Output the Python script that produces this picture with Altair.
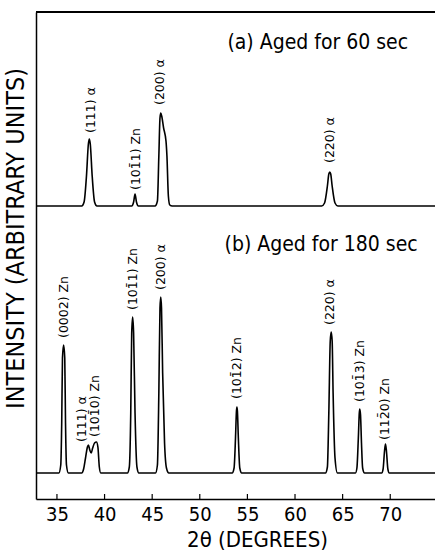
import altair as alt
import pandas as pd

# ---- data (2-theta in degrees, intensity in arbitrary units above each trace's baseline)
two_theta_a = [32.8, 37.6, 37.85, 38.1, 38.3, 38.4, 38.5, 38.7, 38.95, 39.2,
               42.85, 43.05, 43.2, 43.35, 43.55,
               45.3, 45.55, 45.7, 45.82, 45.9, 46.0, 46.2, 46.45, 46.55, 46.7, 46.85, 47.1,
               62.8, 63.1, 63.4, 63.55, 63.65, 63.75, 63.9, 64.2, 64.5, 74.7]
intensity_a = [0, 0, 4, 30, 62, 67, 62, 30, 4, 0,
               0, 4, 12, 4, 0,
               0, 5, 50, 88, 93, 90, 78, 65, 50, 10, 1, 0,
               0, 3, 20, 32, 34, 32, 20, 3, 0, 0]

two_theta_b = [32.8, 35.2, 35.4, 35.5, 35.58, 35.7, 35.82, 35.9, 36.0, 36.2,
               37.6, 37.8, 38.0, 38.2, 38.3, 38.45, 38.6, 38.75, 38.95, 39.15, 39.3, 39.45, 39.6,
               42.4, 42.6, 42.75, 42.85, 42.95, 43.05, 43.2, 43.4, 43.6,
               45.35, 45.55, 45.7, 45.82, 45.9, 45.98, 46.1, 46.3, 46.5, 46.75,
               53.4, 53.6, 53.75, 53.85, 53.9, 53.95, 54.05, 54.2, 54.4,
               63.2, 63.4, 63.55, 63.7, 63.8, 63.9, 64.0, 64.2, 64.45,
               66.35, 66.5, 66.65, 66.75, 66.8, 66.88, 66.98, 67.1, 67.3,
               69.1, 69.25, 69.4, 69.5, 69.6, 69.75, 69.9, 74.7]
intensity_b = [0, 0, 8, 50, 115, 128, 115, 50, 8, 0,
               0, 4, 15, 26, 28, 23, 20, 25, 30, 31, 26, 6, 0,
               0, 6, 60, 140, 156, 140, 60, 6, 0,
               0, 8, 80, 165, 176, 165, 100, 30, 5, 0,
               0, 5, 35, 62, 66, 62, 35, 5, 0,
               0, 6, 60, 132, 141, 132, 80, 15, 0,
               0, 5, 35, 60, 64, 58, 30, 5, 0,
               0, 4, 22, 29, 22, 4, 0, 0]

labels_a = ["(111) α", "(101\u03041) Zn", "(200) α", "(220) α"]
label_x_a = [38.55, 43.3, 45.8, 63.65]
label_y_a = [73, 16, 101, 43]

labels_b = ["(0002) Zn", "(111) α", "(101\u03040) Zn", "(101\u03041) Zn", "(200) α",
            "(101\u03042) Zn", "(220) α", "(101\u03043) Zn", "(112\u03040) Zn"]
label_x_b = [35.7, 37.6, 39.0, 43.0, 45.9, 53.9, 63.65, 66.8, 69.4]
label_y_b = [135, 31, 36, 163, 183, 74, 148, 71, 33]

panel_titles = ["(a) Aged for 60 sec", "(b) Aged for 180 sec"]
panel_title_x = [52.9, 52.6]
panel_title_y = [163, 228]

tick_values = [35, 40, 45, 50, 55, 60, 65, 70]

BASE_A = 293
BASE_B = 26

# ---- tables
trace = pd.concat([
    pd.DataFrame({"t": two_theta_a, "i": [v + BASE_A for v in intensity_a], "s": "a"}),
    pd.DataFrame({"t": two_theta_b, "i": [v + BASE_B for v in intensity_b], "s": "b"}),
], ignore_index=True)
trace["o"] = range(len(trace))

labels = pd.concat([
    pd.DataFrame({"t": label_x_a, "i": [v + BASE_A for v in label_y_a], "txt": labels_a}),
    pd.DataFrame({"t": label_x_b, "i": [v + BASE_B for v in label_y_b], "txt": labels_b}),
], ignore_index=True)

titles = pd.DataFrame({"t": panel_title_x,
                       "i": [panel_title_y[0] + BASE_A, panel_title_y[1] + BASE_B],
                       "txt": panel_titles})
ticks = pd.DataFrame({"t": tick_values})

FONT = "DejaVu Sans Condensed, DejaVu Sans"
xs = alt.Scale(domain=[32.8, 74.7], nice=False, zero=False)
ys = alt.Scale(domain=[0, 487], nice=False, zero=False)

x_axis = alt.Axis(
    values=tick_values, ticks=False, grid=False, domainColor="black", domainWidth=1.5,
    labelFont=FONT, labelFontSize=20, labelColor="black", labelPadding=5,
    title="2θ (DEGREES)", titleFont=FONT, titleFontSize=22, titleFontWeight="normal",
    titleColor="black", titleX=221, titleY=40, titleBaseline="middle", titleAlign="center")
y_axis = alt.Axis(
    ticks=False, labels=False, grid=False, domainColor="black", domainWidth=1.5,
    title="INTENSITY (ARBITRARY UNITS)", titleFont=FONT, titleFontSize=25,
    titleFontWeight="normal", titleColor="black", titleAngle=270,
    titleX=-21, titleY=226, titleAlign="center", titleBaseline="middle")

lines = alt.Chart(trace).mark_line(color="black", strokeWidth=1.6, interpolate="monotone").encode(
    x=alt.X("t:Q", scale=xs, axis=x_axis),
    y=alt.Y("i:Q", scale=ys, axis=y_axis),
    detail="s:N",
    order="o:Q",
)

peak_labels = alt.Chart(labels).mark_text(
    angle=270, align="left", baseline="middle", font="DejaVu Sans", fontSize=12.5, color="black"
).encode(x=alt.X("t:Q", scale=xs, axis=x_axis), y=alt.Y("i:Q", scale=ys, axis=y_axis), text="txt:N")

panel_text = alt.Chart(titles).mark_text(
    align="left", baseline="middle", font=FONT, fontSize=21, color="black"
).encode(x=alt.X("t:Q", scale=xs, axis=x_axis), y=alt.Y("i:Q", scale=ys, axis=y_axis), text="txt:N")

tick_marks = alt.Chart(ticks).mark_rule(color="black", strokeWidth=1.2).encode(
    x=alt.X("t:Q", scale=xs, axis=x_axis), y=alt.value(487), y2=alt.value(482))

top_line = alt.Chart(ticks).mark_rule(color="black", strokeWidth=1.5).encode(
    x=alt.value(0), x2=alt.value(399), y=alt.value(0))

chart = alt.layer(lines, peak_labels, panel_text, tick_marks, top_line).properties(
    width=399, height=487,
    autosize=alt.AutoSizeParams(type="none"),
    padding={"left": 36, "top": 12, "right": 0, "bottom": 53},
    background="white",
).configure_view(stroke=None)

chart.save("out.html", embed_options={"renderer": "svg", "actions": False})
